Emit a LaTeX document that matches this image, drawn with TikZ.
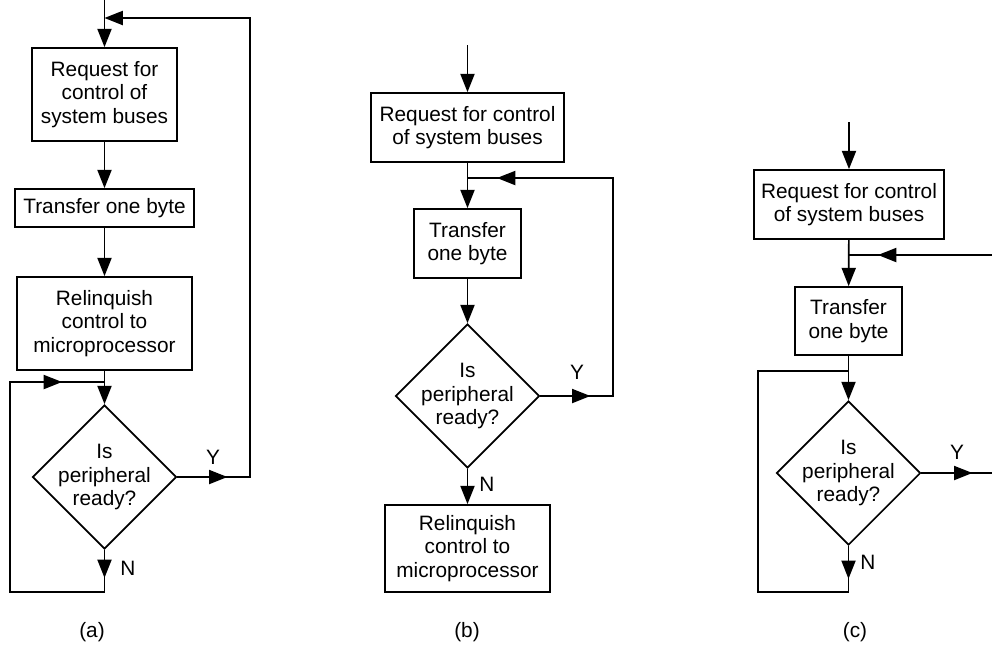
\documentclass[tikz,border=0pt]{standalone}
\usepackage{fontspec}
\setmainfont{Liberation Sans}
\usetikzlibrary{shapes.geometric,arrows.meta}

\begin{document}
\begin{tikzpicture}[x=0.025cm,y=-0.025cm,line width=1.2pt,
    font=\fontsize{14.8}{16.8}\selectfont,
    block/.style={draw,align=center,inner sep=2pt},
    decision/.style={draw,diamond,aspect=1,align=center,inner sep=-4pt,
      minimum width=3.6cm,minimum height=3.6cm},
    flow/.style={-{Triangle[length=13pt,width=10pt]}}]
  \useasboundingbox (0,0) rectangle (992,646);

  %% (a) one byte per bus request
  \node[block,minimum width=3.625cm,minimum height=2.325cm] (reqA) at (104.5,94.5) {Request for\\control of\\system buses};
  \node[block,minimum width=4.475cm,minimum height=0.95cm] (xferA) at (104.5,208) {Transfer one byte};
  \node[block,minimum width=4.375cm,minimum height=2.325cm] (relA) at (104.5,323.5) {Relinquish\\control to\\microprocessor};
  \node[decision] (askA) at (104.5,477) {Is\\peripheral\\ready?};
  \node (yA) at (213,457) {Y};
  \node (nA) at (128,568) {N};
  \node (capA) at (92,632) {(a)};
  \coordinate (topA) at (reqA.north |- 0,18);
  \coordinate (rightA) at (250,18);
  \coordinate (joinA) at (relA.south |- 0,382);
  \coordinate (cornerA) at (10,592);
  \draw[flow] (reqA.north |- 0,0) -- (reqA.north);
  \draw[flow] (reqA) -- (xferA);
  \draw[flow] (xferA) -- (relA);
  \draw[flow] (relA) -- (askA);
  \draw[flow] (askA.east) -- ++(50,0);
  \draw[flow] (askA.east) -- (askA.east -| rightA) -- (rightA) -- (topA);
  \draw[flow] (askA.south) -- ++(0,28);
  \draw (askA.south) -- (askA.south |- cornerA) -- (cornerA) -- (cornerA |- joinA) -- (joinA);
  \draw[flow] (cornerA |- joinA) -- ++(52,0);

  %% (b) burst of bytes, then hand the buses back
  \node[block,minimum width=4.825cm,minimum height=1.725cm] (reqB) at (467.5,127.5) {Request for control\\of system buses};
  \node[block,minimum width=2.675cm,minimum height=1.725cm] (xferB) at (467.5,243.5) {Transfer\\one byte};
  \node[decision] (askB) at (467.5,396) {Is\\peripheral\\ready?};
  \node[block,minimum width=4.125cm,minimum height=2.175cm] (relB) at (467.5,548.5) {Relinquish\\control to\\microprocessor};
  \node (yB) at (577,372) {Y};
  \node (nB) at (487,484) {N};
  \node (capB) at (467,632) {(b)};
  \coordinate (joinB) at (reqB.south |- 0,178);
  \coordinate (rightB) at (613,178);
  \draw[flow] (reqB.north |- 0,45) -- (reqB.north);
  \draw[flow] (reqB) -- (xferB);
  \draw[flow] (xferB) -- (askB);
  \draw[flow] (askB) -- (relB);
  \draw[flow] (askB.east) -- ++(50,0);
  \draw (askB.east) -- (askB.east -| rightB) -- (rightB) -- (joinB);
  \draw[flow] (rightB) -- ++(-116,0);

  %% (c) never gives the buses back
  \node[block,minimum width=4.75cm,minimum height=1.725cm] (reqC) at (849,204.5) {Request for control\\of system buses};
  \node[block,minimum width=2.675cm,minimum height=1.7cm] (xferC) at (848.5,321) {Transfer\\one byte};
  \node[decision] (askC) at (848.5,473) {Is\\peripheral\\ready?};
  \node (yC) at (957,452) {Y};
  \node (nC) at (868,562) {N};
  \node (capC) at (855,632) {(c)};
  \coordinate (joinC) at (reqC.south |- 0,255);
  \coordinate (edgeC) at (992,255);
  \coordinate (outC) at (992,473);
  \coordinate (loopC) at (xferC.south |- 0,371);
  \coordinate (cornerC) at (758,592);
  \draw[flow] (reqC.north |- 0,122) -- (reqC.north);
  \draw[flow] (reqC) -- (xferC);
  \draw[flow] (xferC) -- (askC);
  \draw (edgeC) -- (joinC);
  \draw[flow] (edgeC) -- ++(-114,0);
  \draw (askC.east) -- (outC);
  \draw[flow] (askC.east) -- ++(51,0);
  \draw[flow] (askC.south) -- ++(0,33);
  \draw (askC.south) -- (askC.south |- cornerC) -- (cornerC) -- (cornerC |- loopC) -- (loopC);
\end{tikzpicture}
\end{document}
